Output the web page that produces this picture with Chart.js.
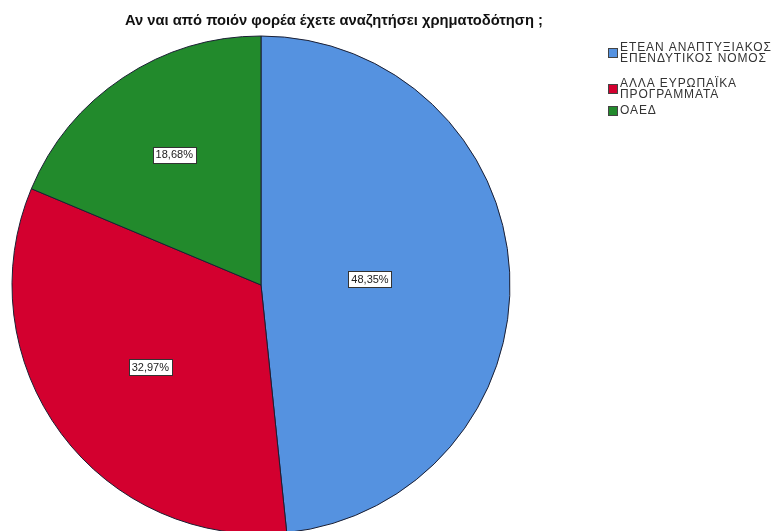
<!DOCTYPE html>
<html>
<head>
<meta charset="utf-8">
<script src="https://cdn.jsdelivr.net/npm/chart.js@4"></script>
<style>
  body { margin: 0; background: #fff; }
  canvas { display: block; }
</style>
</head>
<body>
<canvas id="pie" width="774" height="531"></canvas>
<script>
  // counts (N = 91) -> 48,35% / 32,97% / 18,68%
  var categories = [
    ['ΕΤΕΑΝ ΑΝΑΠΤΥΞΙΑΚΟΣ', 'ΕΠΕΝΔΥΤΙΚΟΣ ΝΟΜΟΣ'],
    ['ΑΛΛΑ ΕΥΡΩΠΑΪΚΑ', 'ΠΡΟΓΡΑΜΜΑΤΑ'],
    ['ΟΑΕΔ']
  ];
  var counts = [44, 30, 17];
  var colors = ['#5592e0', '#d3002f', '#228a2c'];
  var titleText = 'Αν ναι από ποιόν φορέα έχετε αναζητήσει χρηματοδότηση ;';

  // title drawn at the top, fitted to the width it has in the picture
  var titlePlugin = {
    id: 'spssTitle',
    afterDraw: function (chart) {
      var ctx = chart.ctx;
      ctx.save();
      ctx.font = 'bold 14px "Liberation Sans", Arial, sans-serif';
      var w = ctx.measureText(titleText).width;
      var size = 14 * 418 / w;
      ctx.font = 'bold ' + size.toFixed(2) + 'px "Liberation Sans", Arial, sans-serif';
      ctx.fillStyle = '#111';
      ctx.textBaseline = 'middle';
      ctx.textAlign = 'left';
      ctx.fillText(titleText, 125, 21);
      ctx.restore();
    }
  };

  // percentage boxes at the centroid of each slice
  var boxLabels = {
    id: 'boxLabels',
    afterDatasetsDraw: function (chart) {
      var ctx = chart.ctx;
      var data = chart.data.datasets[0].data;
      var total = data.reduce(function (a, b) { return a + b; }, 0);
      ctx.save();
      ctx.font = '11px "Liberation Sans", Arial, sans-serif';
      ctx.textAlign = 'center';
      ctx.textBaseline = 'middle';
      chart.getDatasetMeta(0).data.forEach(function (arc, i) {
        var p = arc.getProps(['x', 'y', 'startAngle', 'endAngle', 'outerRadius'], true);
        var mid = (p.startAngle + p.endAngle) / 2;
        var half = (p.endAngle - p.startAngle) / 2;
        var d = 2 / 3 * p.outerRadius * Math.sin(half) / half;
        var x = p.x + Math.cos(mid) * d;
        var y = p.y + Math.sin(mid) * d;
        var txt = (data[i] / total * 100).toFixed(2).replace('.', ',') + '%';
        var tw = ctx.measureText(txt).width;
        var bw = Math.round(tw + 6), bh = 16;
        var bx = Math.round(x - bw / 2) + 0.5, by = Math.round(y - bh / 2) + 0.5;
        ctx.fillStyle = '#fff';
        ctx.fillRect(bx, by, bw, bh);
        ctx.strokeStyle = '#333';
        ctx.lineWidth = 1;
        ctx.strokeRect(bx, by, bw, bh);
        ctx.fillStyle = '#222';
        ctx.fillText(txt, x, y + 0.5);
      });
      ctx.restore();
    }
  };

  // legend in the upper right, two-line labels
  var sideLegend = {
    id: 'sideLegend',
    afterDraw: function (chart) {
      var ctx = chart.ctx;
      var labels = chart.data.labels;
      var bg = chart.data.datasets[0].backgroundColor;
      var tops = [42, 78, 105];
      var lineH = 11;
      ctx.save();
      ctx.font = '12px "Liberation Sans", Arial, sans-serif';
      if ('letterSpacing' in ctx) ctx.letterSpacing = '0.9px';
      ctx.textBaseline = 'middle';
      ctx.textAlign = 'left';
      labels.forEach(function (lines, i) {
        var top = tops[i];
        var blockH = lines.length * lineH;
        var sq = 10;
        var sy = Math.round(top + blockH / 2 - sq / 2);
        ctx.fillStyle = bg[i];
        ctx.fillRect(608, sy, sq, sq);
        ctx.strokeStyle = '#444';
        ctx.lineWidth = 1;
        ctx.strokeRect(608.5, sy + 0.5, sq - 1, sq - 1);
        ctx.fillStyle = '#333';
        lines.forEach(function (line, j) {
          ctx.fillText(line, 620, top + lineH * j + lineH / 2);
        });
      });
      ctx.restore();
    }
  };

  var chart = new Chart(document.getElementById('pie'), {
    type: 'pie',
    data: {
      labels: categories,
      datasets: [{
        data: counts,
        backgroundColor: colors,
        borderColor: '#1b1f33',
        borderWidth: 1,
        radius: 249,
        clip: false
      }]
    },
    options: {
      responsive: false,
      devicePixelRatio: 1,
      animation: false,
      layout: { padding: { left: 0, right: 252, top: 39, bottom: 0 } },
      plugins: {
        legend: { display: false },
        title: { display: false },
        tooltip: { enabled: false }
      }
    },
    plugins: [titlePlugin, boxLabels, sideLegend]
  });
</script>
</body>
</html>
